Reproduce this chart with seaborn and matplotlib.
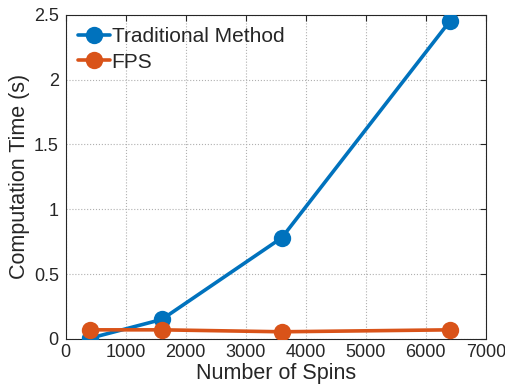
import matplotlib
matplotlib.use("Agg")
import matplotlib.pyplot as plt
import seaborn as sns
import pandas as pd

spins = [400, 1600, 3600, 6400]
traditional = [0.005, 0.15, 0.78, 2.45]
fps = [0.07, 0.07, 0.055, 0.07]
series_names = ["Traditional Method", "FPS"]
colors = ["#0072BD", "#D95319"]

sns.set_style("white")
plt.rcParams["font.family"] = ["Liberation Sans", "DejaVu Sans"]

df = pd.DataFrame({
    "Number of Spins": spins * 2,
    "time": traditional + fps,
    "method": [series_names[0]] * len(spins) + [series_names[1]] * len(spins),
})

fig = plt.figure(figsize=(5.06, 3.9), dpi=100)
ax = fig.add_axes([0.130, 0.131, 0.830, 0.831])

sns.lineplot(data=df, x="Number of Spins", y="time", hue="method",
             palette=colors, marker="o", markersize=12.5, linewidth=2.6,
             markeredgewidth=0, ax=ax, zorder=3)

ax.set_xlim(0, 7000)
ax.set_ylim(0, 2.5)
ax.set_xticks(range(0, 7001, 1000))
ax.set_yticks([0, 0.5, 1, 1.5, 2, 2.5])
ax.set_yticklabels(["0", "0.5", "1", "1.5", "2", "2.5"])
ax.grid(True, linestyle=":", color="#b0b0b0", linewidth=0.8)
ax.set_axisbelow(True)
for s in ax.spines.values():
    s.set_visible(True)
    s.set_color("#262626")
    s.set_linewidth(0.8)
ax.tick_params(direction="in", length=4, width=0.8, top=True, right=True,
               labelsize=13, colors="#262626")
ax.tick_params(axis="x", pad=4)
ax.tick_params(axis="y", pad=5)
ax.set_xlabel("Number of Spins", fontsize=15.5, color="#262626", labelpad=1)
ax.set_ylabel("Computation Time (s)", fontsize=15.5, color="#262626", labelpad=3)

leg = ax.legend(loc="upper left", frameon=False, fontsize=15, handlelength=1.5,
                handletextpad=0.1, borderaxespad=0.4, labelspacing=0.3,
                borderpad=0.2)
for h in leg.legend_handles:
    h.set_linewidth(2.6)
    h.set_markersize(12.5)

fig.savefig("out.png", dpi=100)
